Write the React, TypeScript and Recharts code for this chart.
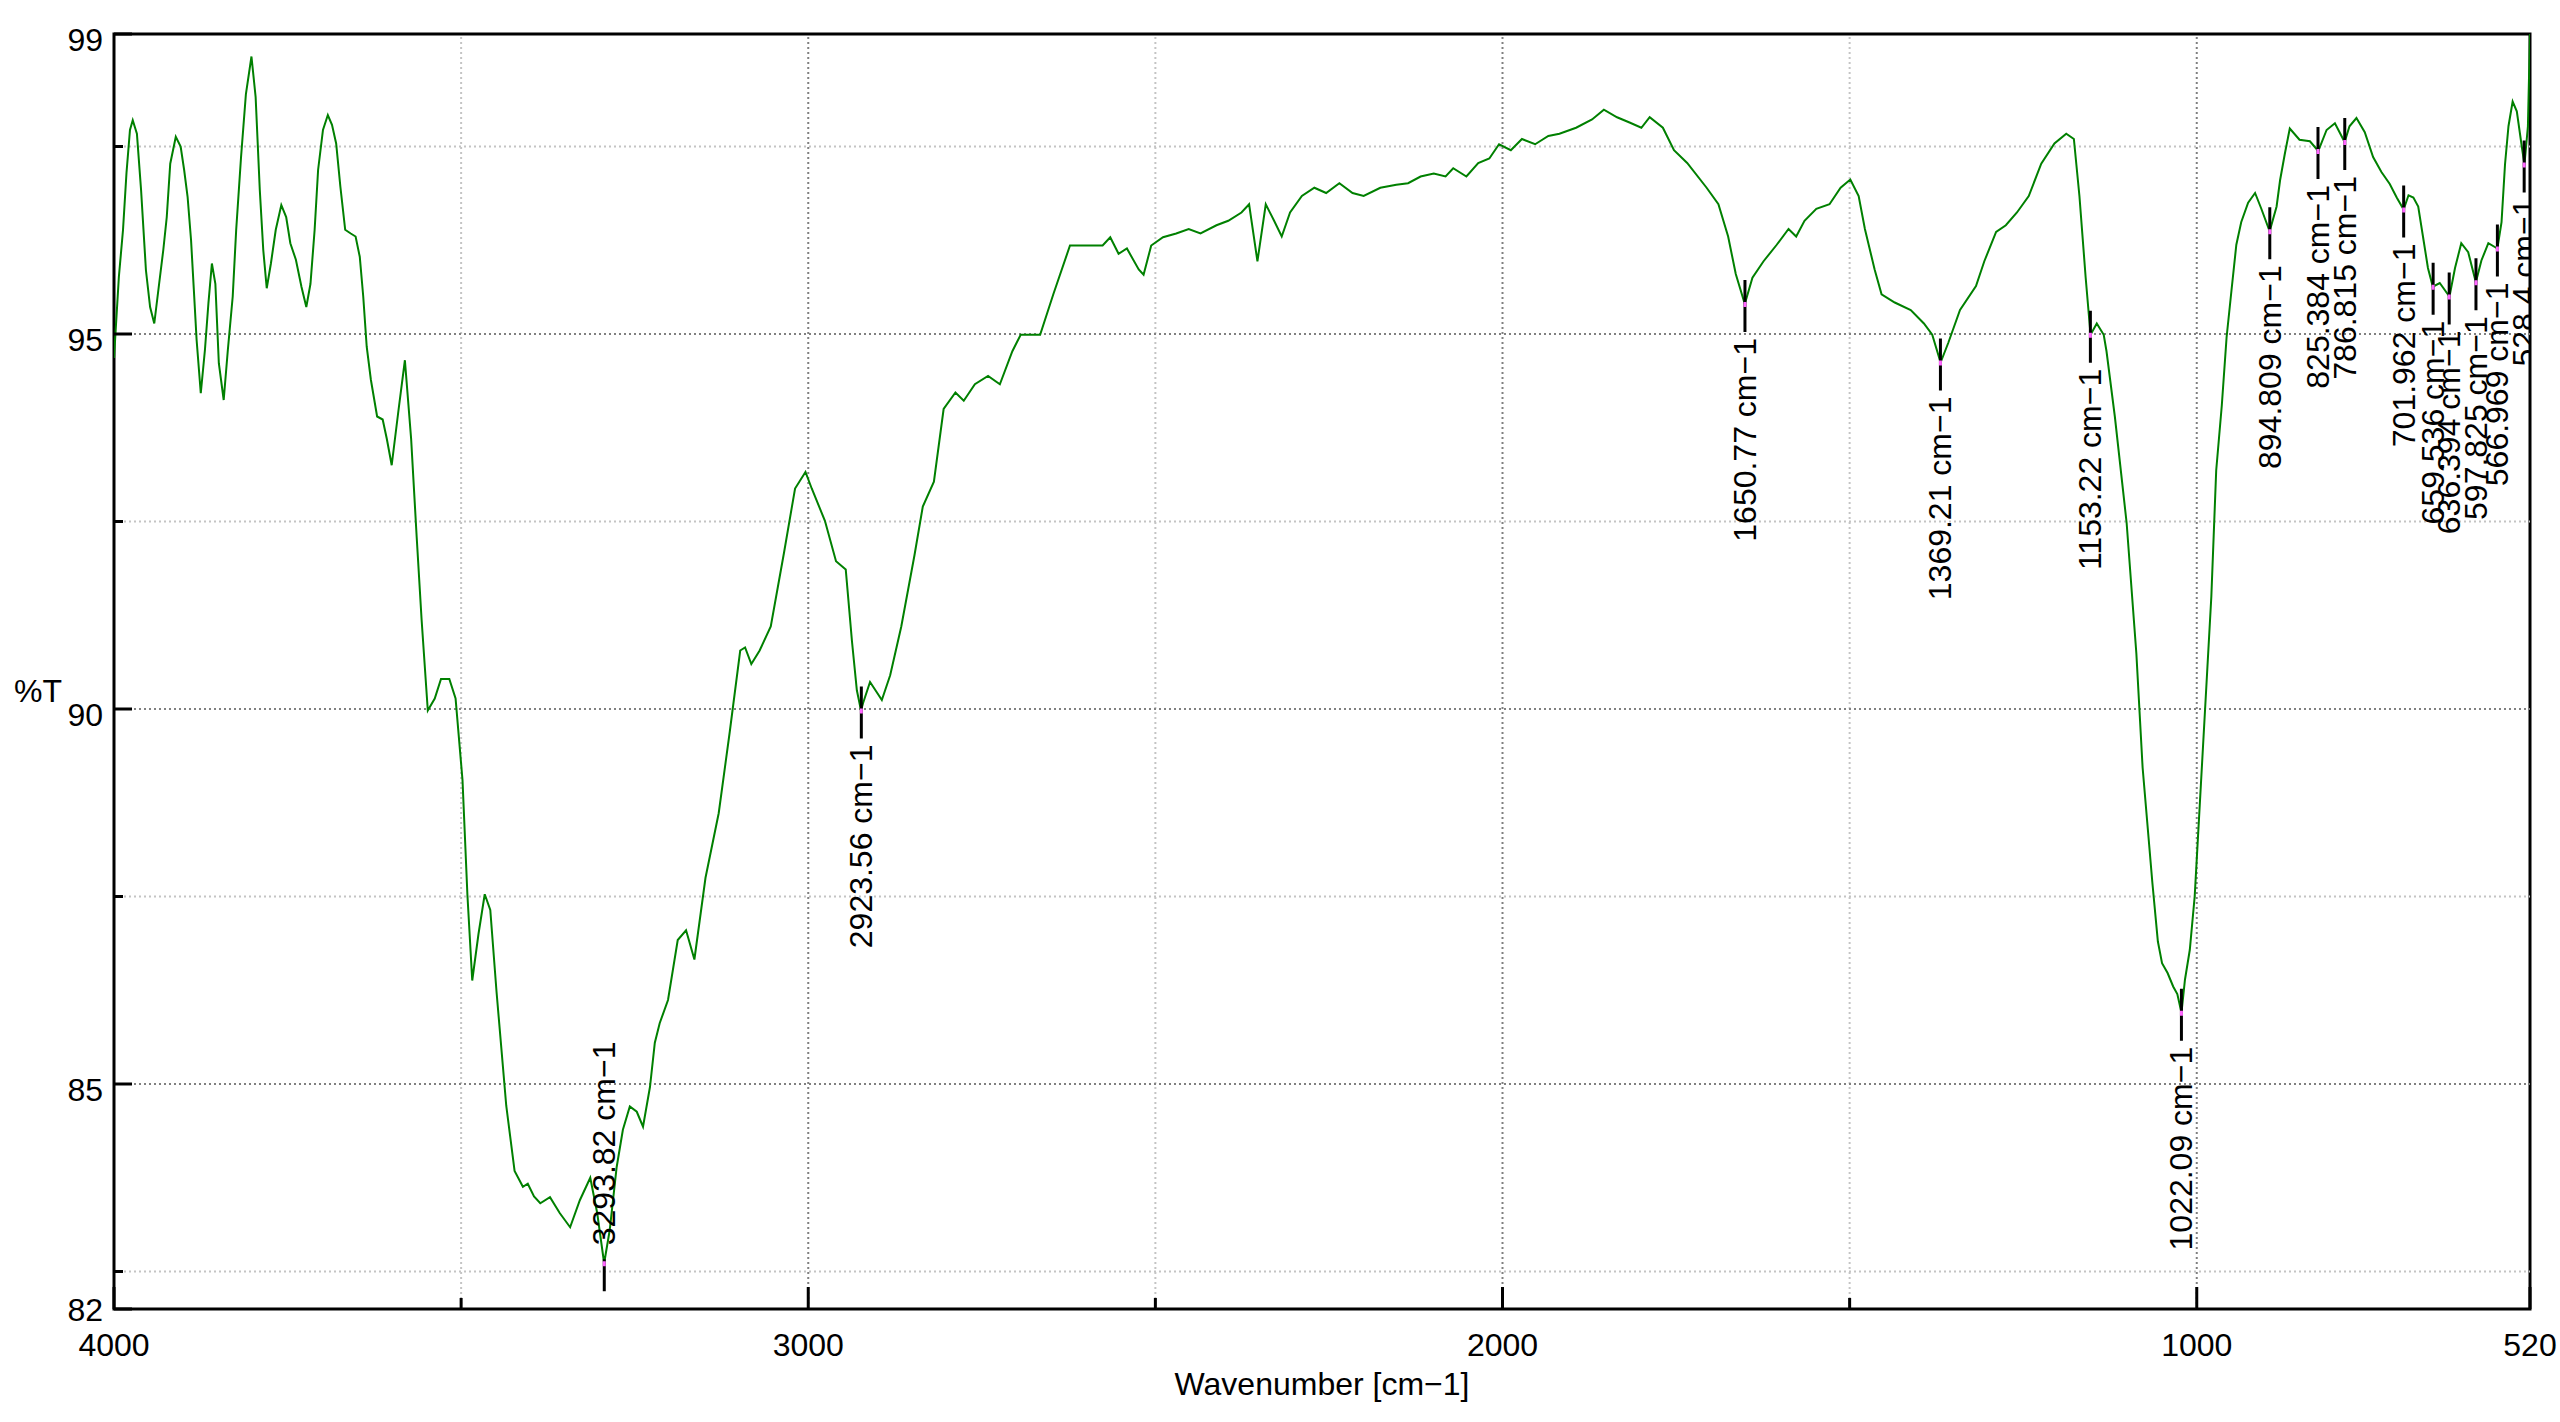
import React from 'react';
import { ComposedChart, Line, Scatter, XAxis, YAxis, ReferenceLine, ReferenceArea, Label } from 'recharts';

// spectrum, 4000 -> 520 cm-1
const wavenumbers = [
  4000, 3993, 3987, 3982, 3977, 3973, 3967, 3961, 3954, 3948, 3942, 3935, 3929, 3924, 3919, 3911,
  3904, 3899, 3894, 3889, 3885, 3881, 3875, 3869, 3864, 3859, 3854, 3849, 3842, 3836, 3829, 3824,
  3817, 3810, 3802, 3796, 3790, 3785, 3780, 3774, 3767, 3759, 3752, 3746, 3738, 3730, 3723, 3717,
  3711, 3706, 3699, 3692, 3686, 3680, 3674, 3667, 3659, 3652, 3646, 3641, 3636, 3630, 3621, 3613,
  3607, 3600, 3590, 3581, 3572, 3564, 3557, 3548, 3538, 3529, 3517, 3508, 3498, 3491, 3484, 3475,
  3466, 3458, 3449, 3435, 3423, 3411, 3404, 3395, 3386, 3372, 3358, 3343, 3329, 3314, 3304, 3294,
  3286, 3276, 3267, 3257, 3247, 3238, 3228, 3221, 3214, 3202, 3188, 3176, 3164, 3148, 3129, 3113,
  3098, 3091, 3082, 3070, 3054, 3035, 3019, 3004, 2995, 2976, 2960, 2946, 2937, 2930, 2924, 2921,
  2911, 2894, 2882, 2866, 2847, 2835, 2819, 2805, 2788, 2776, 2760, 2741, 2724, 2706, 2694, 2678,
  2666, 2647, 2623, 2600, 2576, 2565, 2553, 2541, 2524, 2517, 2506, 2489, 2470, 2452, 2435, 2412,
  2395, 2376, 2365, 2353, 2341, 2329, 2318, 2306, 2289, 2271, 2254, 2235, 2216, 2200, 2176, 2153,
  2136, 2118, 2099, 2082, 2071, 2052, 2035, 2019, 2005, 1988, 1972, 1953, 1934, 1918, 1894, 1871,
  1854, 1835, 1817, 1800, 1788, 1769, 1753, 1734, 1706, 1689, 1675, 1664, 1651, 1640, 1624, 1605,
  1588, 1577, 1565, 1548, 1529, 1513, 1499, 1487, 1478, 1464, 1454, 1435, 1412, 1393, 1381, 1369,
  1358, 1341, 1318, 1306, 1289, 1275, 1259, 1242, 1224, 1205, 1188, 1177, 1169, 1160, 1153, 1144,
  1134, 1130, 1118, 1101, 1087, 1078, 1064, 1056, 1050, 1042, 1034, 1028, 1022, 1017, 1010, 1003,
  994, 985, 979, 972, 964, 957, 950, 943, 936, 926, 916, 907, 895, 885, 880, 873,
  866, 852, 837, 825, 813, 801, 787, 780, 770, 758, 746, 734, 722, 712, 702, 695,
  688, 681, 674, 667, 660, 650, 636, 628, 619, 609, 598, 590, 580, 567, 561, 556,
  551, 545, 539, 532, 528, 523, 520,
];

const transmittance = [
  94.68, 95.76, 96.39, 97.15, 97.72, 97.85, 97.67, 96.92, 95.85, 95.36, 95.14, 95.67, 96.12, 96.56, 97.27, 97.63,
  97.5, 97.19, 96.83, 96.25, 95.59, 94.92, 94.21, 94.79, 95.41, 95.94, 95.67, 94.61, 94.12, 94.79, 95.5, 96.39,
  97.36, 98.2, 98.7, 98.16, 96.92, 96.12, 95.61, 95.94, 96.39, 96.72, 96.56, 96.21, 95.99, 95.63, 95.36, 95.67,
  96.39, 97.19, 97.72, 97.92, 97.79, 97.54, 96.97, 96.39, 96.34, 96.3, 96.03, 95.5, 94.83, 94.39, 93.9, 93.86,
  93.6, 93.25, 94.0, 94.65, 93.6, 92.29, 91.2, 89.98, 90.14, 90.4, 90.4, 90.14, 89.05, 87.53, 86.38, 87.0,
  87.53, 87.32, 86.23, 84.71, 83.84, 83.63, 83.67, 83.5, 83.41, 83.49, 83.28, 83.09, 83.45, 83.75, 83.28, 82.61,
  83.05, 83.89, 84.39, 84.7, 84.63, 84.43, 84.96, 85.55, 85.81, 86.12, 86.92, 87.05, 86.66, 87.75, 88.61, 89.7,
  90.78, 90.82, 90.6, 90.78, 91.1, 92.08, 92.94, 93.16, 92.94, 92.51, 91.97, 91.86, 90.9, 90.25, 89.98, 90.08,
  90.36, 90.12, 90.45, 91.1, 92.05, 92.7, 93.03, 94.0, 94.22, 94.11, 94.33, 94.44, 94.33, 94.77, 94.99, 94.99,
  94.99, 95.53, 96.18, 96.18, 96.18, 96.29, 96.07, 96.14, 95.86, 95.79, 96.18, 96.29, 96.34, 96.4, 96.34, 96.45,
  96.51, 96.62, 96.73, 95.97, 96.73, 96.51, 96.3, 96.62, 96.84, 96.95, 96.88, 97.01, 96.88, 96.84, 96.95, 96.99,
  97.01, 97.1, 97.14, 97.1, 97.21, 97.1, 97.28, 97.34, 97.53, 97.45, 97.6, 97.53, 97.64, 97.67, 97.75, 97.86,
  97.99, 97.89, 97.82, 97.75, 97.89, 97.75, 97.45, 97.28, 96.95, 96.73, 96.3, 95.8, 95.4, 95.75, 95.97, 96.19,
  96.4, 96.3, 96.51, 96.67, 96.73, 96.95, 97.06, 96.84, 96.4, 95.86, 95.53, 95.42, 95.32, 95.14, 94.99, 94.62,
  94.88, 95.32, 95.64, 95.97, 96.36, 96.45, 96.62, 96.84, 97.27, 97.54, 97.67, 97.6, 96.84, 95.75, 94.99, 95.14,
  94.99, 94.77, 93.9, 92.48, 90.74, 89.22, 87.69, 86.9, 86.61, 86.48, 86.3, 86.2, 85.95, 86.39, 86.79, 87.5,
  89.0, 90.5, 91.5, 93.18, 94.04, 94.96, 95.58, 96.19, 96.49, 96.75, 96.88, 96.67, 96.37, 96.7, 97.05, 97.41,
  97.74, 97.59, 97.57, 97.44, 97.72, 97.81, 97.56, 97.77, 97.88, 97.69, 97.36, 97.16, 97.0, 96.82, 96.66, 96.85,
  96.82, 96.7, 96.29, 95.88, 95.63, 95.68, 95.5, 95.88, 96.21, 96.09, 95.69, 95.98, 96.21, 96.14, 96.49, 97.26,
  97.77, 98.1, 97.97, 97.51, 97.26, 97.77, 99.0,
];

// picked peaks
const peakLabels = [
  '3293.82', '2923.56', '1650.77', '1369.21', '1153.22', '1022.09', '894.809', '825.384',
  '786.815', '701.962', '659.536', '636.394', '597.825', '566.969', '528.4',
];
const peakTransmittance = [
  82.61, 89.98, 95.4, 94.62, 94.99, 85.95, 96.37, 97.44, 97.56, 96.66, 95.63, 95.5, 95.69, 96.14, 97.26,
];
const peakLabelAbove = [true, false, false, false, false, false, false, false, false, false, false, false, false, false, false];

const xTicks = [4000, 3500, 3000, 2500, 2000, 1500, 1000, 520];
const xTickLabels = [4000, 3000, 2000, 1000, 520];
const yTicks = [99, 97.5, 95, 92.5, 90, 87.5, 85, 82.5, 82];
const yTickLabels = [99, 95, 90, 85, 82];
const xGridMajor = [3000, 2000, 1000];
const xGridMinor = [3500, 2500, 1500];
const yGridMajor = [95, 90, 85];
const yGridMinor = [97.5, 92.5, 87.5, 82.5];

const FONT = '"Liberation Sans", Arial, sans-serif';
const X_TITLE = 'Wavenumber [cm\u22121]';

const spectrum = wavenumbers.map((wn, i) => ({ wn, t: transmittance[i] }));
const peaks = peakLabels.map((label, i) => ({
  wn: parseFloat(label),
  t: peakTransmittance[i],
  label,
  above: peakLabelAbove[i],
}));

const XTick = ({ x, y, payload }: any) => {
  const labelled = xTickLabels.includes(payload.value);
  return (
    <g>
      <line x1={x} x2={x} y1={y} y2={y - (labelled ? 22 : 11)} stroke="#000" strokeWidth={3} />
      {labelled && (
        <text x={x} y={y + 47} textAnchor="middle" fontSize={32} fontFamily={FONT} fill="#000">
          {payload.value}
        </text>
      )}
    </g>
  );
};

const YTick = ({ x, y, payload }: any) => {
  const labelled = yTickLabels.includes(payload.value);
  // the bottom label sits a bit higher so it clears the 4000 below it
  const dy = payload.value === 82 ? 12 : 17;
  return (
    <g>
      <line x1={x} x2={x + (labelled ? 18 : 9)} y1={y} y2={y} stroke="#000" strokeWidth={3} />
      {labelled && (
        <text x={x - 11} y={y + dy} textAnchor="end" fontSize={32} fontFamily={FONT} fill="#000">
          {payload.value}
        </text>
      )}
    </g>
  );
};

const PeakMarker = (props: any) => {
  const { cx, cy, payload } = props;
  if (cx == null || cy == null) return null;
  const above = payload.above;
  const textY = above ? cy - 18 : cy + 34;
  return (
    <g>
      <line x1={cx} x2={cx} y1={above ? cy - 4 : cy - 24} y2={cy + 28} stroke="#000" strokeWidth={3} />
      <line x1={cx} x2={cx} y1={cy - 2} y2={cy + 3} stroke="#ff66ff" strokeWidth={3} />
      <text
        transform={`translate(${cx},${textY}) rotate(-90)`}
        x={0}
        y={11}
        textAnchor={above ? 'start' : 'end'}
        fontSize={32}
        fontFamily={FONT}
        fill="#000"
      >
        {`${payload.label} cm\u22121`}
      </text>
    </g>
  );
};

export default function App() {
  return (
    <div style={{ position: 'absolute', left: 0, top: 0, width: 2560, height: 1422, background: '#fff' }}>
      <ComposedChart width={2560} height={1422} data={spectrum} margin={{ top: 34, right: 30, bottom: 0, left: 0 }}>
        <XAxis
          dataKey="wn"
          type="number"
          domain={[520, 4000]}
          reversed
          allowDataOverflow
          ticks={xTicks}
          interval={0}
          height={113}
          tickSize={0}
          tickMargin={0}
          tickLine={false}
          axisLine={false}
          tick={(p: any) => <XTick {...p} />}
        >
          <Label value={X_TITLE} position="insideBottom" offset={27} fontSize={32} fontFamily={FONT} fill="#000" />
        </XAxis>
        <YAxis
          type="number"
          domain={[82, 99]}
          allowDataOverflow
          ticks={yTicks}
          interval={0}
          width={114}
          tickSize={0}
          tickMargin={0}
          tickLine={false}
          axisLine={false}
          tick={(p: any) => <YTick {...p} />}
        >
          <Label value="%T" position="insideLeft" offset={14} dy={19} fontSize={32} fontFamily={FONT} fill="#000" />
        </YAxis>

        {xGridMinor.map(v => (
          <ReferenceLine key={`xm-${v}`} x={v} stroke="#c4c4c4" strokeWidth={2} strokeDasharray="2 3" />
        ))}
        {yGridMinor.map(v => (
          <ReferenceLine key={`ym-${v}`} y={v} stroke="#c4c4c4" strokeWidth={2} strokeDasharray="2 3" />
        ))}
        {xGridMajor.map(v => (
          <ReferenceLine key={`xM-${v}`} x={v} stroke="#808080" strokeWidth={2} strokeDasharray="2 3" />
        ))}
        {yGridMajor.map(v => (
          <ReferenceLine key={`yM-${v}`} y={v} stroke="#808080" strokeWidth={2} strokeDasharray="2 3" />
        ))}
        <ReferenceArea x1={4000} x2={520} y1={82} y2={99} fill="none" stroke="#000" strokeWidth={3} />

        <Line
          dataKey="t"
          type="linear"
          stroke="#008000"
          strokeWidth={2}
          dot={false}
          activeDot={false}
          isAnimationActive={false}
        />
        <Scatter data={peaks} dataKey="t" shape={(p: any) => <PeakMarker {...p} />} isAnimationActive={false} />
      </ComposedChart>
    </div>
  );
}
